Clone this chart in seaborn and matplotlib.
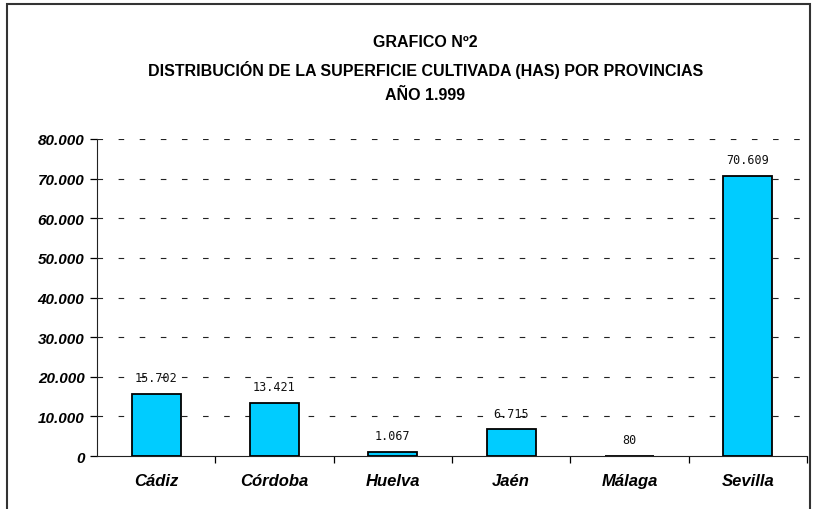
import matplotlib
matplotlib.use('Agg')
import matplotlib.pyplot as plt
import matplotlib.ticker as mticker
from matplotlib.patches import Rectangle
import seaborn as sns
import pandas as pd

# data
provincias = ['Cádiz', 'Córdoba', 'Huelva', 'Jaén', 'Málaga', 'Sevilla']
superficie = [15702, 13421, 1067, 6715, 80, 70609]
y_ticks = [0, 10000, 20000, 30000, 40000, 50000, 60000, 70000, 80000]

titulo = 'GRAFICO Nº2\nDISTRIBUCIÓN DE LA SUPERFICIE CULTIVADA (HAS) POR PROVINCIAS\nAÑO 1.999'

sns.set_style('white')
plt.rcParams['font.family'] = ['Liberation Sans', 'DejaVu Sans']
plt.rcParams['text.color'] = 'black'
plt.rcParams['xtick.color'] = 'black'
plt.rcParams['ytick.color'] = 'black'

df = pd.DataFrame({'provincia': provincias, 'has': superficie})


def miles(v, pos=None):
    return f'{int(round(v)):,}'.replace(',', '.')


fig = plt.figure(figsize=(8.13, 5.10), dpi=100)
ax = fig.add_axes([0.1193, 0.1039, 0.8733, 0.6216])

sns.barplot(data=df, x='provincia', y='has', color='#00CCFF', saturation=1,
            width=0.415, edgecolor='black', linewidth=1.3, ax=ax, zorder=3)

ax.set_ylim(0, 80000)
ax.set_xlim(-0.5, 5.5)
ax.set_yticks(y_ticks)
ax.yaxis.set_major_formatter(mticker.FuncFormatter(miles))
for y in y_ticks[1:]:
    ax.axhline(y, color='#222222', linewidth=0.8, linestyle=(0, (5, 14)), zorder=1)

ax.set_xlabel('')
ax.set_ylabel('')
for s in ['top', 'right']:
    ax.spines[s].set_visible(False)
ax.spines['left'].set_color('#222222')
ax.spines['bottom'].set_color('#222222')

ax.tick_params(axis='y', length=5, width=0.9, direction='out', left=True, pad=4)
ax.tick_params(axis='x', which='major', length=0, pad=12)
ax.set_xticks([i + 0.5 for i in range(6)], minor=True)
ax.tick_params(axis='x', which='minor', length=5, width=0.9, direction='out', bottom=True)

for lab in ax.get_yticklabels():
    lab.set_fontweight('bold')
    lab.set_fontstyle('italic')
    lab.set_fontsize(11)
for lab in ax.get_xticklabels():
    lab.set_fontweight('bold')
    lab.set_fontstyle('italic')
    lab.set_fontsize(12)

for i, v in enumerate(superficie):
    ax.annotate(miles(v), (i, v), xytext=(0, 7), textcoords='offset points',
                ha='center', va='bottom', fontsize=8.5,
                family='DejaVu Sans Mono', color='#111111')

fig.text(0.523, 0.865, titulo, ha='center', va='center', fontsize=11.5,
         fontweight='bold', linespacing=1.75)

fig.patches.append(Rectangle((7 / 813, -0.05), 803 / 813, 1.05 - 5 / 510,
                             transform=fig.transFigure, fill=False,
                             edgecolor='#333333', linewidth=1.5))

fig.savefig('out.png', dpi=100)
